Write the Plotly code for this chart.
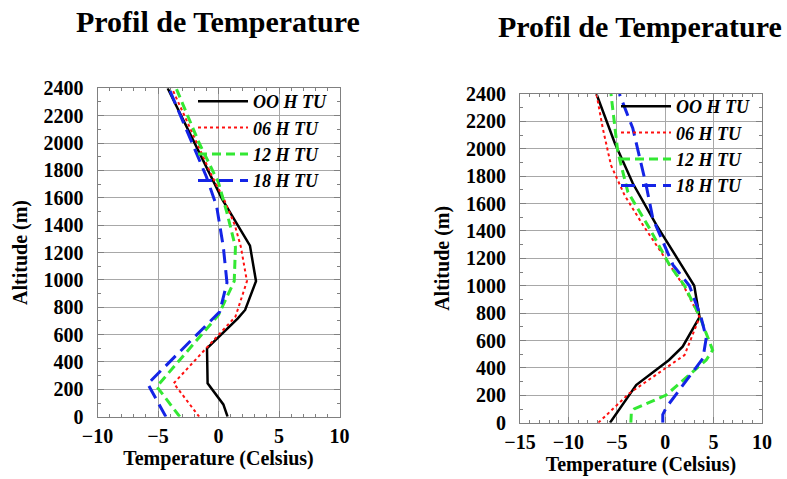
import plotly.graph_objects as go

W, H = 787, 479

# ---------------- data ----------------
series_names = ["OO H TU", "06 H TU", "12 H TU", "18 H TU"]

# Left panel
alt_L_00 = [0, 90, 244, 500, 719, 780, 990, 1250, 1590, 2400]
tmp_L_00 = [0.75, 0.4, -0.9, -0.95, 1.6, 2.2, 3.1, 2.6, 0.3, -4.2]
alt_L_06 = [0, 244, 731, 990, 1240, 1400, 1590, 1760, 2400]
tmp_L_06 = [-1.6, -3.7, 1.4, 2.35, 1.85, 1.35, 0.45, -0.55, -3.85]
alt_L_12 = [0, 220, 743, 990, 1240, 1490, 1710, 2000, 2400]
tmp_L_12 = [-3.2, -5.1, 0.0, 1.3, 1.4, 0.7, 0.0, -1.6, -3.5]
alt_L_18 = [0, 240, 767, 980, 1240, 1535, 1754, 2400]
tmp_L_18 = [-4.35, -5.85, 0.1, 0.7, 0.4, -0.15, -1.0, -4.1]

# Right panel
alt_R_00 = [0, 275, 458, 555, 770, 1000, 1160, 1443, 1748, 2040, 2400]
tmp_R_00 = [-5.7, -3.0, 0.4, 1.8, 3.55, 3.0, 1.6, -0.9, -3.35, -5.2, -7.1]
alt_R_06 = [0, 215, 494, 770, 1000, 1152, 1443, 1661, 1880, 2150, 2400]
tmp_R_06 = [-6.9, -3.7, 2.0, 3.55, 1.9, 0.44, -2.3, -4.2, -5.6, -6.45, -7.1]
alt_R_12 = [0, 70, 100, 202, 458, 530, 770, 1000, 1152, 1419, 1687, 1979, 2400]
tmp_R_12 = [-3.55, -3.5, -3.2, 0.1, 4.24, 4.9, 3.6, 2.0, 0.44, -1.62, -3.87, -4.9, -5.6]
alt_R_18 = [0, 60, 110, 470, 620, 770, 1000, 1152, 1492, 1735, 2150, 2400]
tmp_R_18 = [-0.25, -0.25, 0.1, 3.9, 4.24, 3.7, 2.5, 0.8, -1.28, -1.97, -3.35, -4.73]

panel_title = "Profil de Temperature"
x_title = "Temperature (Celsius)"
y_title = "Altitude (m)"

# ---------------- styles ----------------
FONT = "Liberation Serif"
styles = [
    dict(color="#000000", width=2.5, dash="solid"),
    dict(color="#ff1010", width=2, dash="dot"),
    dict(color="#33e833", width=3, dash="9px,5px"),
    dict(color="#1424e6", width=3, dash="14px,7px"),
]

fig = go.Figure()
left = [(tmp_L_00, alt_L_00), (tmp_L_06, alt_L_06), (tmp_L_12, alt_L_12), (tmp_L_18, alt_L_18)]
right = [(tmp_R_00, alt_R_00), (tmp_R_06, alt_R_06), (tmp_R_12, alt_R_12), (tmp_R_18, alt_R_18)]

for i, (t, a) in enumerate(left):
    fig.add_trace(go.Scatter(x=t, y=a, mode="lines", name=series_names[i],
                             line=styles[i], xaxis="x", yaxis="y", legend="legend"))
for i, (t, a) in enumerate(right):
    fig.add_trace(go.Scatter(x=t, y=a, mode="lines", name=series_names[i],
                             line=styles[i], xaxis="x2", yaxis="y2", legend="legend2"))

def px_x(p):
    return p / W

def px_y(p):
    return 1 - p / H

tickfont = dict(family=FONT, size=20, color="black", weight="bold")
titlefont = dict(family=FONT, size=20, color="black", weight="bold")

def xaxis(rng, dom, anchor):
    return dict(range=rng, domain=dom, anchor=anchor, dtick=5, showgrid=True,
                gridcolor="#a8a8a8", gridwidth=1, zeroline=False, automargin=False,
                showline=True, linecolor="#808080", linewidth=1, mirror="allticks",
                ticks="inside", ticklen=6, tickcolor="#808080", ticklabelstandoff=1,
                minor=dict(dtick=1, ticks="inside", ticklen=3, tickcolor="#808080", showgrid=False),
                tickfont=tickfont, title=dict(text=x_title, font=titlefont, standoff=5))

def yaxis(dom, anchor):
    return dict(range=[0, 2400], domain=dom, anchor=anchor, dtick=200, showgrid=True,
                gridcolor="#a8a8a8", gridwidth=1, zeroline=False, automargin=False,
                showline=True, linecolor="#808080", linewidth=1, mirror="allticks",
                ticks="inside", ticklen=6, tickcolor="#808080", ticklabelstandoff=9,
                minor=dict(dtick=100, ticks="inside", ticklen=3, tickcolor="#808080", showgrid=False),
                tickfont=tickfont, title=dict(text=y_title, font=titlefont, standoff=10))

legfont = dict(family=FONT, size=18, color="black", weight="bold", style="italic")

fig.update_layout(
    width=W, height=H,
    margin=dict(l=0, r=0, t=0, b=0),
    paper_bgcolor="white", plot_bgcolor="white",
    showlegend=True,
    xaxis=xaxis([-10, 10], [px_x(97.5), px_x(339.5)], "y"),
    yaxis=yaxis([px_y(416.7), px_y(88.3)], "x"),
    xaxis2=xaxis([-15, 10], [px_x(520), px_x(762)], "y2"),
    yaxis2=yaxis([px_y(422.7), px_y(94)], "x2"),
    legend=dict(x=px_x(193), y=px_y(83), xanchor="left", yanchor="top", itemwidth=50,
                bgcolor="rgba(0,0,0,0)", font=legfont, tracegroupgap=0),
    legend2=dict(x=px_x(616), y=px_y(88), xanchor="left", yanchor="top", itemwidth=50,
                 bgcolor="rgba(0,0,0,0)", font=legfont, tracegroupgap=0),
    annotations=[
        dict(text=panel_title, x=px_x(217.5), y=px_y(22), xref="paper", yref="paper",
             showarrow=False, xanchor="center", yanchor="middle",
             font=dict(family=FONT, size=30, color="black", weight="bold")),
        dict(text=panel_title, x=px_x(640), y=px_y(26), xref="paper", yref="paper",
             showarrow=False, xanchor="center", yanchor="middle",
             font=dict(family=FONT, size=30, color="black", weight="bold")),
    ],
)

fig.write_html("out.html")
